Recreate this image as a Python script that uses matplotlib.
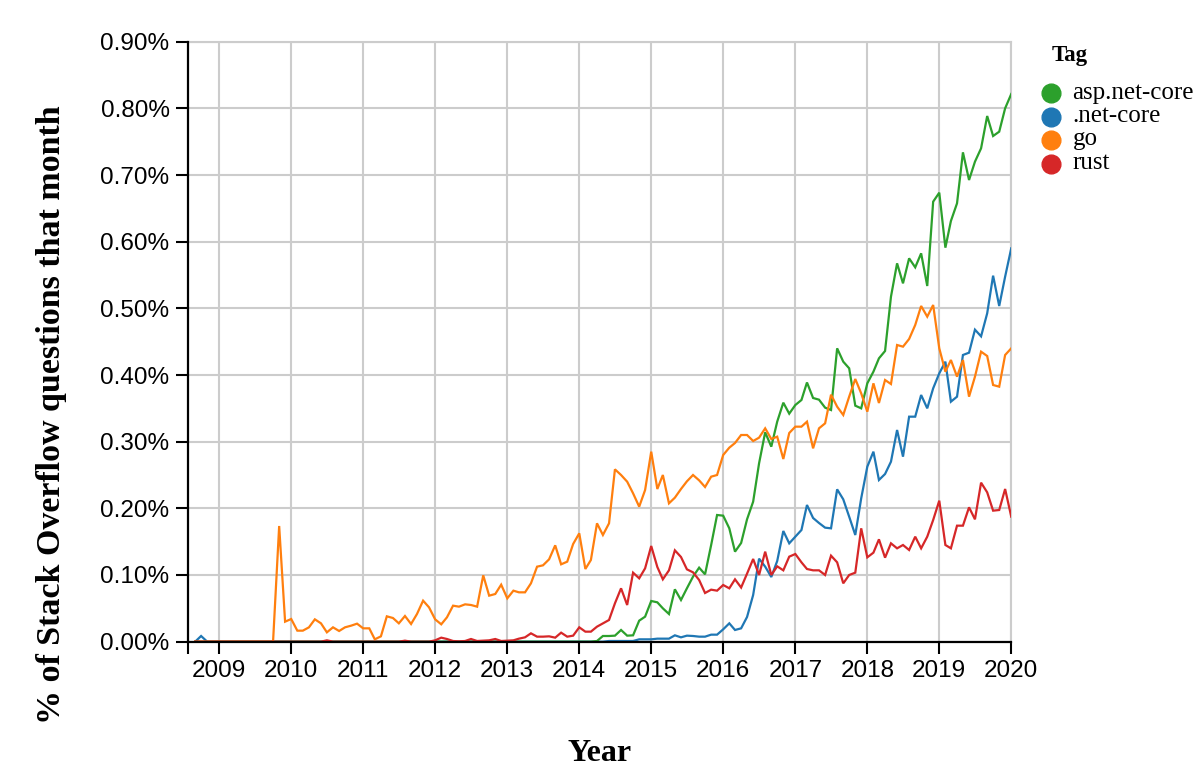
import numpy as np
import pandas as pd
import matplotlib
matplotlib.use("Agg")
import matplotlib.pyplot as plt
from matplotlib.lines import Line2D
from matplotlib.ticker import FuncFormatter, MultipleLocator
import matplotlib.dates as mdates


# monthly share of Stack Overflow questions (%), Sep 2008 .. Jan 2020
months = pd.date_range("2008-09-01", "2020-01-01", freq="MS")

tags = ["asp.net-core", ".net-core", "go", "rust"]
colors = ["#2ca02c", "#1f77b4", "#ff7f0e", "#d62728"]

asp_net_core = (
    [0] * 4                                   # 2008
    + [0] * 60                                # 2009 - 2013
    + [0, 0, 0, 0.001, 0.0085, 0.0085, 0.009, 0.0175, 0.009, 0.0095, 0.0315, 0.0375]
    + [0.061, 0.059, 0.050, 0.0415, 0.0785, 0.0625, 0.080, 0.0975, 0.111, 0.101, 0.145, 0.190]
    + [0.189, 0.170, 0.135, 0.148, 0.1835, 0.210, 0.2675, 0.314, 0.2925, 0.330, 0.3585, 0.342]
    + [0.355, 0.3625, 0.3888, 0.3655, 0.363, 0.351, 0.3475, 0.440, 0.420, 0.410, 0.354, 0.350]
    + [0.3875, 0.405, 0.425, 0.436, 0.5175, 0.5675, 0.5375, 0.575, 0.5615, 0.5825, 0.5335, 0.660]
    + [0.6735, 0.591, 0.631, 0.6575, 0.734, 0.6925, 0.720, 0.740, 0.7885, 0.7585, 0.765, 0.800]
    + [0.8215]
)

net_core = (
    [0, 0.0085, 0, 0]
    + [0] * 60
    + [0, 0, 0, 0, 0, 0.001, 0.001, 0.001, 0.001, 0.001, 0.0035, 0.0035]
    + [0.0035, 0.0045, 0.0045, 0.0045, 0.0095, 0.0065, 0.009, 0.0085, 0.0075, 0.0075, 0.0105, 0.0105]
    + [0.0185, 0.0275, 0.0175, 0.020, 0.037, 0.070, 0.1245, 0.1125, 0.097, 0.121, 0.166, 0.1475]
    + [0.1575, 0.1675, 0.205, 0.1855, 0.178, 0.171, 0.170, 0.2285, 0.2135, 0.1875, 0.160, 0.215]
    + [0.2625, 0.285, 0.2425, 0.2515, 0.270, 0.3175, 0.2775, 0.3375, 0.3375, 0.370, 0.350, 0.380]
    + [0.4025, 0.420, 0.360, 0.3675, 0.430, 0.4335, 0.468, 0.458, 0.4925, 0.549, 0.5035, 0.5475]
    + [0.590]
)

go = (
    [0] * 4
    + [0] * 10 + [0.1735, 0.030]
    + [0.034, 0.0165, 0.0165, 0.0215, 0.0335, 0.0275, 0.014, 0.0215, 0.016, 0.0215, 0.024, 0.027]
    + [0.020, 0.020, 0.0035, 0.008, 0.038, 0.0355, 0.0275, 0.0385, 0.0265, 0.0415, 0.0615, 0.0515]
    + [0.0335, 0.026, 0.0365, 0.054, 0.0525, 0.056, 0.055, 0.0525, 0.0995, 0.069, 0.0715, 0.0855]
    + [0.065, 0.0765, 0.074, 0.074, 0.0875, 0.1125, 0.1145, 0.1235, 0.1445, 0.116, 0.120, 0.1465]
    + [0.1625, 0.109, 0.1225, 0.1775, 0.160, 0.1775, 0.2585, 0.250, 0.240, 0.2225, 0.2025, 0.2275]
    + [0.285, 0.229, 0.250, 0.2075, 0.216, 0.229, 0.2405, 0.250, 0.242, 0.232, 0.2475, 0.250]
    + [0.280, 0.291, 0.298, 0.310, 0.310, 0.301, 0.306, 0.320, 0.304, 0.3075, 0.274, 0.313]
    + [0.3225, 0.3225, 0.330, 0.290, 0.320, 0.3275, 0.3705, 0.3525, 0.340, 0.3675, 0.394, 0.3725]
    + [0.345, 0.3875, 0.358, 0.3925, 0.3865, 0.445, 0.4425, 0.454, 0.475, 0.5035, 0.4875, 0.505]
    + [0.440, 0.405, 0.4225, 0.3975, 0.4225, 0.3675, 0.3975, 0.435, 0.4285, 0.385, 0.3825, 0.430]
    + [0.440]
)

rust = (
    [0] * 4
    + [0] * 12
    + [0, 0, 0, 0, 0, 0, 0.002, 0, 0, 0, 0, 0]
    + [0, 0, 0, 0, 0, 0, 0, 0.0015, 0, 0, 0, 0]
    + [0.002, 0.006, 0.004, 0.001, 0.0005, 0.001, 0.004, 0.001, 0.0015, 0.002, 0.004, 0.001]
    + [0.0015, 0.002, 0.0045, 0.0065, 0.0125, 0.0075, 0.0075, 0.008, 0.006, 0.0135, 0.0075, 0.009]
    + [0.0215, 0.015, 0.015, 0.0225, 0.0275, 0.0325, 0.0575, 0.080, 0.055, 0.1035, 0.095, 0.110]
    + [0.1435, 0.112, 0.0935, 0.107, 0.137, 0.127, 0.1085, 0.104, 0.0925, 0.073, 0.078, 0.0765]
    + [0.085, 0.080, 0.0935, 0.0812, 0.102, 0.124, 0.100, 0.135, 0.100, 0.113, 0.107, 0.1275]
    + [0.1315, 0.119, 0.109, 0.107, 0.107, 0.100, 0.129, 0.119, 0.0875, 0.100, 0.1035, 0.170]
    + [0.1265, 0.1335, 0.1535, 0.126, 0.1475, 0.140, 0.145, 0.1375, 0.1575, 0.140, 0.1575, 0.1825]
    + [0.2115, 0.145, 0.140, 0.174, 0.174, 0.2015, 0.1835, 0.2385, 0.224, 0.1965, 0.1975, 0.229]
    + [0.1875]
)

series = [asp_net_core, net_core, go, rust]
draw_order = [1, 0, 2, 3]  # .net-core underneath, rust on top

sans = "Liberation Sans"
serif = "Liberation Serif"

fig = plt.figure(figsize=(12, 7.79), dpi=100)
ax = fig.add_axes([0.1569, 0.1763, 0.6858, 0.7702])

for z, k in enumerate(draw_order):
    ax.plot(months, np.array(series[k]), color=colors[k], lw=1.6, zorder=3 + z,
            solid_joinstyle="miter")

ax.set_ylim(0, 0.9)
ax.set_xlim(pd.Timestamp("2008-07-28"), pd.Timestamp("2020-01-01"))
ax.yaxis.set_major_locator(MultipleLocator(0.1))
ax.yaxis.set_major_formatter(FuncFormatter(lambda v, p: f"{v:.2f}%"))
ax.xaxis.set_major_locator(mdates.YearLocator())
ax.xaxis.set_major_formatter(mdates.DateFormatter("%Y"))
ax.set_xticks([pd.Timestamp("2008-07-28")], minor=True)

ax.grid(True, color="#cccccc", lw=1.5, zorder=0)
ax.set_axisbelow(True)
for s in ["top", "right"]:
    ax.spines[s].set_color("#cccccc")
    ax.spines[s].set_linewidth(1.5)
for s in ["left", "bottom"]:
    ax.spines[s].set_color("black")
    ax.spines[s].set_linewidth(1.6)
    ax.spines[s].set_zorder(10)

ax.tick_params(axis="both", which="both", length=8.5, width=1.5, color="black")
ax.tick_params(axis="y", pad=5)
ax.tick_params(axis="x", pad=5)
for lab in ax.get_xticklabels() + ax.get_yticklabels():
    lab.set_fontfamily(sans)
    lab.set_fontsize(17.5)

ax.set_ylabel("% of Stack Overflow questions that month", family=serif,
              weight="bold", fontsize=24.5)
ax.yaxis.set_label_coords(-0.147, 0.378)
ax.set_xlabel("Year", family=serif, weight="bold", fontsize=23)
ax.xaxis.set_label_coords(0.5, -0.163)

# legend
def fy(px):
    return 1 - px / 779

fig.text(1052 / 1200, fy(61.5), "Tag", family=serif, weight="bold",
         fontsize=16.5, ha="left", va="baseline")
for k, (tag, col) in enumerate(zip(tags, colors)):
    yc = 93 + 23.5 * k
    fig.add_artist(Line2D([1051 / 1200], [fy(yc)], marker="o", markersize=13.5,
                          color=col, lw=0, transform=fig.transFigure))
    fig.text(1072.5 / 1200, fy(yc + 5.5), tag, family=serif, fontsize=18,
             ha="left", va="baseline")

fig.savefig("out.png", dpi=100)
